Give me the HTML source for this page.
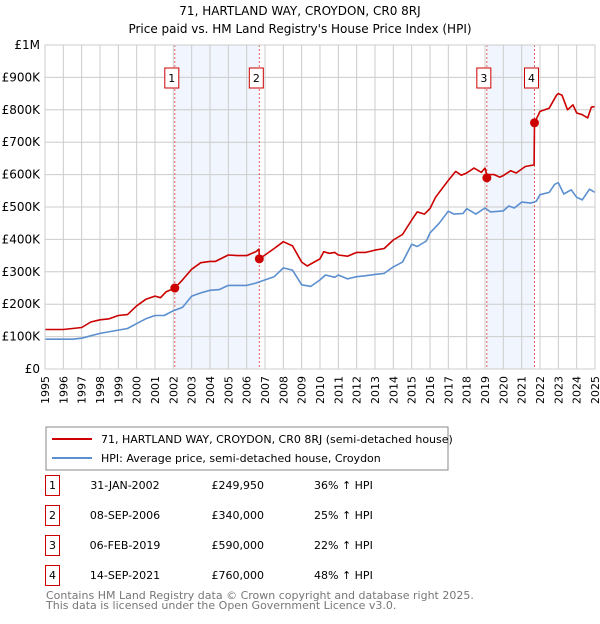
<!DOCTYPE html>
<html><head><meta charset="utf-8"><style>
body{margin:0;background:#fff;font-family:"DejaVu Sans","Liberation Sans",sans-serif;}
svg text{font-family:"DejaVu Sans","Liberation Sans",sans-serif;}
</style></head><body>
<svg id="c" width="600" height="620" xmlns="http://www.w3.org/2000/svg">
<text x="300" y="15" text-anchor="middle" font-size="12">71, HARTLAND WAY, CROYDON, CR0 8RJ</text>
<text x="300" y="33" text-anchor="middle" font-size="12">Price paid vs. HM Land Registry's House Price Index (HPI)</text>
<g id="plot"></g>
<rect x="46" y="427" width="402" height="43" fill="#fff" stroke="#888"/>
<line x1="52" y1="439" x2="92" y2="439" stroke="#cc0000" stroke-width="2"/>
<text x="101" y="443" font-size="11">71, HARTLAND WAY, CROYDON, CR0 8RJ (semi-detached house)</text>
<line x1="52" y1="458" x2="92" y2="458" stroke="#5b8fd0" stroke-width="2"/>
<text x="101" y="462" font-size="11">HPI: Average price, semi-detached house, Croydon</text>
<g id="tbl"></g>
<text x="46" y="599" font-size="11" fill="#777">Contains HM Land Registry data © Crown copyright and database right 2025.</text>
<text x="46" y="609" font-size="11" fill="#777">This data is licensed under the Open Government Licence v3.0.</text>
</svg>
<script>
const hpiYears=[1995,1996.5,1997,1998,1999,1999.5,2000,2000.5,2001,2001.5,2002,2002.5,2003,2003.5,2004,2004.5,2005,2006,2006.5,2007,2007.5,2008,2008.5,2009,2009.5,2010,2010.3,2010.8,2011,2011.5,2012,2012.5,2013,2013.5,2014,2014.5,2015,2015.3,2015.8,2016,2016.5,2017,2017.3,2017.8,2018,2018.5,2019,2019.3,2020,2020.3,2020.6,2021,2021.5,2021.8,2022,2022.5,2022.8,2023,2023.3,2023.7,2024,2024.3,2024.7,2025];
const hpiValues=[92,92,95,110,120,125,140,155,165,165,180,190,225,235,243,245,258,258,265,275,285,312,305,260,255,275,290,283,290,278,285,288,292,295,315,330,385,378,395,420,450,487,478,480,495,478,497,485,488,503,497,515,512,518,538,545,570,575,540,553,530,522,555,545];
const ppYears=[1995,1996,1997,1997.5,1998,1998.5,1999,1999.5,2000,2000.5,2001,2001.3,2001.6,2002.08,2002.5,2003,2003.5,2004,2004.3,2005,2005.5,2006,2006.5,2006.67,2006.69,2007,2007.5,2008,2008.5,2009,2009.3,2010,2010.2,2010.5,2010.8,2011,2011.5,2012,2012.5,2013,2013.5,2014,2014.5,2015,2015.3,2015.7,2016,2016.3,2017,2017.4,2017.7,2018,2018.4,2018.8,2019,2019.1,2019.5,2019.8,2020,2020.4,2020.7,2021.2,2021.68,2021.7,2022,2022.5,2022.9,2023,2023.2,2023.5,2023.8,2024,2024.3,2024.6,2024.8,2025];
const ppValues=[122,122,128,145,152,155,165,168,195,215,225,220,238,250,275,308,328,332,332,352,350,350,362,370,340,352,372,393,380,330,318,340,362,357,360,352,348,360,360,367,372,398,415,460,485,478,495,530,582,610,598,605,620,607,620,600,600,592,597,612,605,625,630,760,795,805,845,850,845,800,815,790,785,775,808,810];
const saleLabels=["1","2","3","4"];
const saleYears=[2002.08,2006.69,2019.1,2021.7];
const saleValues=[249.95,340,590,760];
const saleDates=["31-JAN-2002","08-SEP-2006","06-FEB-2019","14-SEP-2021"];
const salePrices=["£249,950","£340,000","£590,000","£760,000"];
const saleHpi=["36% ↑ HPI","25% ↑ HPI","22% ↑ HPI","48% ↑ HPI"];
const yTicks=[0,100,200,300,400,500,600,700,800,900,1000];
const yTickLabels=["£0","£100K","£200K","£300K","£400K","£500K","£600K","£700K","£800K","£900K","£1M"];
const xTicks=[1995,1996,1997,1998,1999,2000,2001,2002,2003,2004,2005,2006,2007,2008,2009,2010,2011,2012,2013,2014,2015,2016,2017,2018,2019,2020,2021,2022,2023,2024,2025];

const X0=45,X1=595,Y0=369,Y1=45;
const xs=y=>X0+(y-1995)/30*(X1-X0);
const ys=v=>Y0-v/1000*(Y0-Y1);
const NS="http://www.w3.org/2000/svg";
const plot=document.getElementById('plot');
function mk(tag,attrs,parent){const e=document.createElementNS(NS,tag);for(const k in attrs)e.setAttribute(k,attrs[k]);(parent||plot).appendChild(e);return e;}

for(let i=0;i<saleYears.length;i+=2){
 const r=mk('rect',{x:xs(saleYears[i]),y:Y1,width:xs(saleYears[i+1])-xs(saleYears[i]),height:Y0-Y1,fill:'#eef3fc',opacity:'0.8'});
 
 
}
xTicks.forEach(t=>{
 const l=mk('line',{x1:xs(t),x2:xs(t),y1:Y1,y2:Y0,stroke:'#ccc','stroke-width':1});
 
 
 const tx=mk('text',{x:0,y:0,'font-size':11,'text-anchor':'end',transform:`translate(${xs(t)+4},376) rotate(-90)`});
 tx.textContent=String(t);
 
 
});
yTicks.forEach((t,i)=>{
 const l=mk('line',{x1:X0,x2:X1,y1:ys(t),y2:ys(t),stroke:'#ccc','stroke-width':1});
 
 
 const tx=mk('text',{x:40,y:ys(t)+4,'font-size':12,'text-anchor':'end'});
 tx.textContent=yTickLabels[i];
 
 
});
saleYears.forEach((y,i)=>{
 const l=mk('line',{x1:xs(y),x2:xs(y),y1:Y1,y2:Y0,stroke:'#e06060','stroke-width':1,'stroke-dasharray':'2,2'});
 
 
});
function line(xa,va,color,name){
 const p=mk('polyline',{points:xa.map((x,i)=>xs(x).toFixed(1)+','+ys(va[i]).toFixed(1)).join(' '),fill:'none',stroke:color,'stroke-width':1.6,'stroke-linejoin':'round'});
 
 
}
line(hpiYears,hpiValues,'#5b8fd0','hpi-line');
line(ppYears,ppValues,'#cc0000','property-price-line');
saleYears.forEach((y,i)=>{
 const c=mk('circle',{cx:xs(y),cy:ys(saleValues[i]),r:4.5,fill:'#cc0000'});
 
 
 const b=mk('rect',{x:xs(y)-10,y:68,width:14,height:20,fill:'#fff',stroke:'#cc0000','stroke-width':1});
 
 
 const t=mk('text',{x:xs(y)-3,y:82,'font-size':11,'text-anchor':'middle'});
 t.textContent=saleLabels[i];
 
 
});
const ax=mk('rect',{x:X0,y:Y1,width:X1-X0,height:Y0-Y1,fill:'none',stroke:'#ccc'});



const tbl=document.getElementById('tbl');
saleLabels.forEach((s,i)=>{
 const top=475+i*30;
 const b=mk('rect',{x:45.5,y:top+0.5,width:14,height:20,fill:'#fff',stroke:'#cc0000','stroke-width':1},tbl);
 
 
 const cells=[[52.5,s,'middle'],[125,saleDates[i],'middle'],[264,salePrices[i],'end'],[314,saleHpi[i],'start']];
 cells.forEach(c=>{
  const t=mk('text',{x:c[0],y:top+14,'font-size':11,'text-anchor':c[2]},tbl);
  t.textContent=c[1];
  
  
 });
});
</script>
</body></html>
